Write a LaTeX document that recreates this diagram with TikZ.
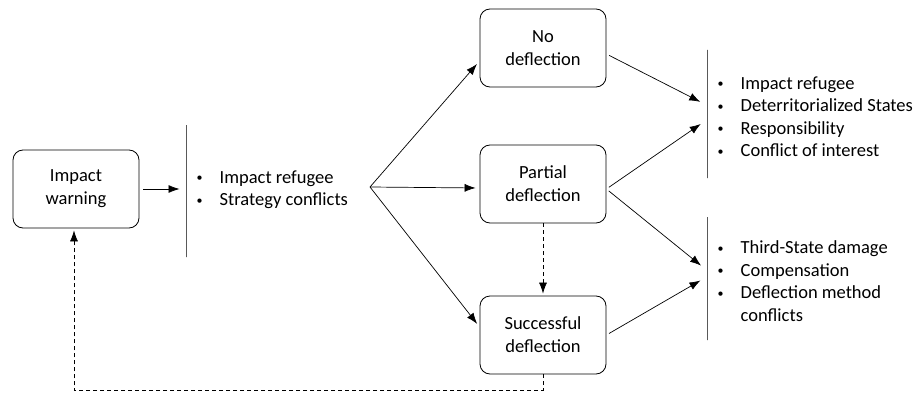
\documentclass[tikz,border=0pt]{standalone}
\usepackage{fontspec}
\setmainfont{Carlito}
\usetikzlibrary{%
  positioning
 ,arrows.meta
 ,calc
}
\tikzset{
  box/.style={draw,rounded corners=10pt,minimum width=126pt,minimum height=78pt,
    align=center,inner sep=2pt,line width=0.8pt,font=\fontsize{18.5}{23}\selectfont},
  bar/.style={draw,inner sep=0pt,minimum width=0pt,line width=1pt},
  lst/.style={inner sep=0pt,font=\fontsize{18.5}{22.6}\selectfont},
  conn/.style={-{Latex[length=11pt,width=8pt]},line width=0.7pt},
  dconn/.style={conn,dash pattern=on 4pt off 3pt}
}
\newcommand{\bul}{\raisebox{1.6pt}{\fontsize{12}{12}\selectfont\textbullet}}
\newcommand{\bulletlist}[1]{\begin{tabular}{@{}l@{\hspace{17pt}}l@{}}#1\end{tabular}}

\begin{document}
\begin{tikzpicture}[x=1pt,y=-1pt]
  \useasboundingbox (0,0) rectangle (919,396);
  \node[box]  (warn)     at (76,189)   {Impact\\warning};
  \node[box]  (nodefl)   at (543,48)   {No\\deflection};
  \node[box]  (partial)  at (543,184)  {Partial\\deflection};
  \node[box]  (success)  at (543,335)  {Successful\\deflection};
%
  \node[bar,minimum height=132pt] (bar0) at (186,191) {};
  \node[bar,minimum height=128pt] (bar1) at (707,114) {};
  \node[bar,minimum height=123pt] (bar2) at (707,278.5) {};
  \coordinate (fork) at (370,187);
%
  \node[lst] (risk0) [right=10pt of bar0,yshift=1pt] {\bulletlist{%
    \bul & Impact refugee\\
    \bul & Strategy conflicts}};
  \node[lst] (risk1) [right=10pt of bar1,yshift=-4.5pt] {\bulletlist{%
    \bul & Impact refugee\\
    \bul & Deterritorialized States\\
    \bul & Responsibility\\
    \bul & Conflict of interest}};
  \node[lst] (risk2) [right=10pt of bar2,yshift=-4.5pt] {\bulletlist{%
    \bul & Third-State damage\\
    \bul & Compensation\\
    \bul & Deflection method\\
         & conflicts}};
%
  \draw[conn,shorten <=4pt,shorten >=6pt] (warn.east) -- (warn.east -| bar0.west);
  \draw[conn,shorten >=4pt] (fork) -- ([yshift=-13pt]nodefl.west);
  \draw[conn,shorten >=4pt] (fork) -- ([yshift=-4pt]partial.west);
  \draw[conn,shorten >=4pt] (fork) -- ([yshift=8pt]success.west);
%
  \draw[conn,shorten <=3pt,shorten >=7pt] ([yshift=-6pt]nodefl.east) -- ([yshift=9pt]bar1.west);
  \draw[conn,shorten <=3pt,shorten >=7pt] ([yshift=-5pt]partial.east) -- ([yshift=-6pt]bar1.west);
  \draw[conn,shorten <=3pt,shorten >=7pt] ([yshift=-5pt]partial.east) -- ([yshift=8.5pt]bar2.west);
  \draw[conn,shorten <=3pt,shorten >=7pt] (success.east) -- ([yshift=1.5pt]bar2.west);
%
  \draw[dconn,shorten >=2pt] (partial.south) -- (success.north);
  \draw[dconn,shorten >=2pt] (success.south) -- ++(0,16) -| ([xshift=-2pt]warn.south);
\end{tikzpicture}
\end{document}
